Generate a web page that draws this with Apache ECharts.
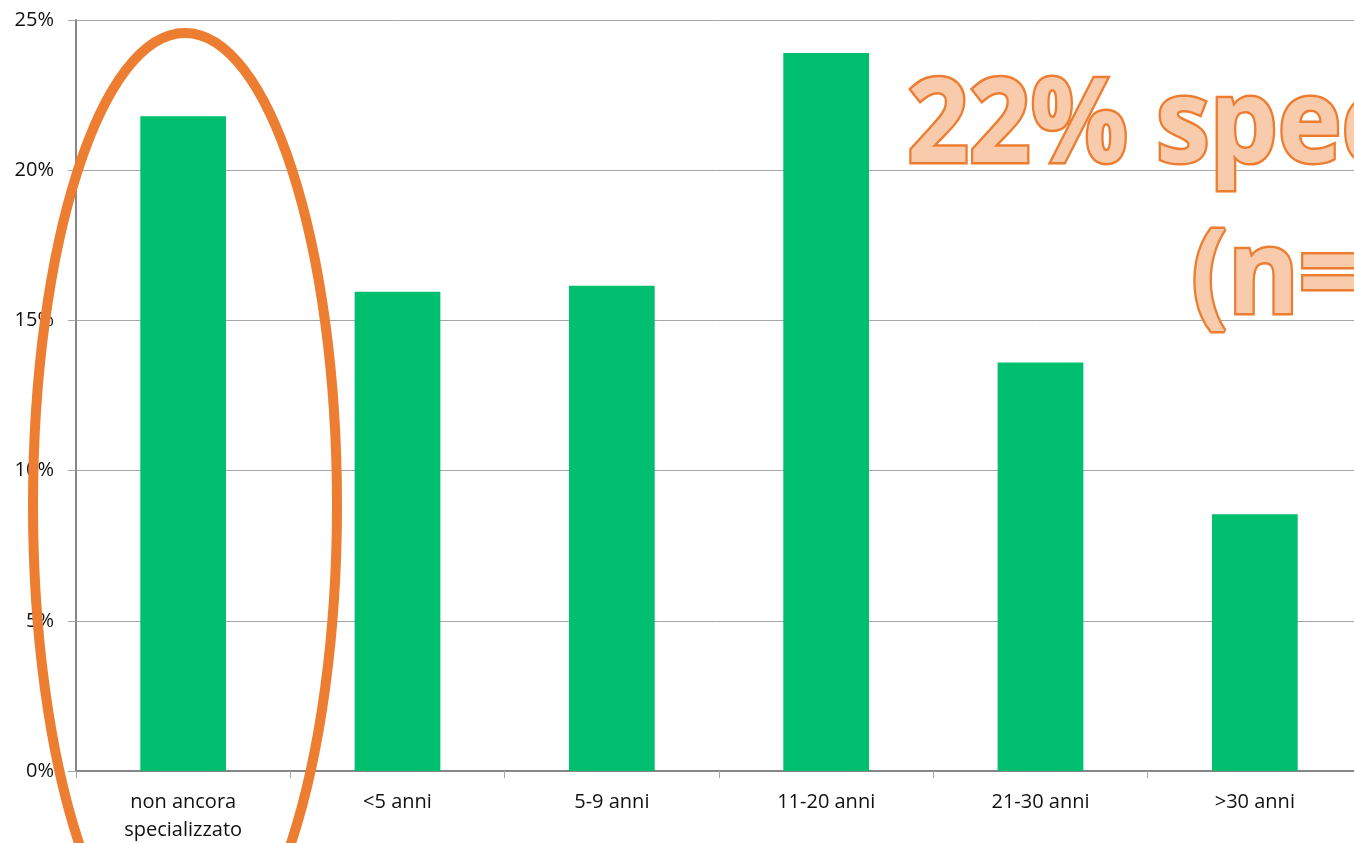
<!DOCTYPE html>
<html>
<head>
<meta charset="utf-8">
<script src="https://cdn.jsdelivr.net/npm/echarts@6/dist/echarts.min.js"></script>
<style>
  html, body { margin: 0; padding: 0; background: #fff; }
  #chart { width: 1354px; height: 843px; }
</style>
</head>
<body>
<div id="chart"></div>
<script>
// categorie e valori (%)
const categories = ['non ancora\nspecializzato', '<5 anni', '5-9 anni', '11-20 anni', '21-30 anni', '>30 anni']
const values = [21.8, 15.95, 16.15, 23.9, 13.6, 8.55]
const yTicks = [0, 5, 10, 15, 20, 25]

const chart = echarts.init(document.getElementById('chart'))
const font = 'Open Sans, Liberation Sans, sans-serif'

let option = {
  animation: false,
  grid: { left: 76, top: 20, width: 1286, height: 751, outerBoundsMode: 'none', containLabel: false },
  xAxis: {
    type: 'category',
    data: categories,
    axisLine: { lineStyle: { color: '#868686', width: 2 } },
    axisTick: { show: true, length: 7, lineStyle: { color: '#a6a6a6' } },
    axisLabel: { color: '#111', fontSize: 20, fontFamily: font, lineHeight: 28, margin: 17 },
  },
  yAxis: {
    type: 'value',
    min: yTicks[0],
    max: yTicks[yTicks.length - 1],
    interval: 5,
    axisLine: { show: true, lineStyle: { color: '#868686', width: 2 } },
    axisTick: { show: true, length: 8, lineStyle: { color: '#a6a6a6' } },
    axisLabel: { color: '#111', fontSize: 20, fontFamily: font, margin: 22, formatter: '{value}%' },
    splitLine: { lineStyle: { color: '#a6a6a6', width: 1 } },
  },
  series: [
    {
      type: 'bar',
      data: values,
      barWidth: '40%',
      itemStyle: { color: '#00BF6F' },
    },
  ],
  graphic: [
    {
      type: 'ellipse',
      shape: { cx: 185, cy: 505, rx: 152, ry: 472 },
      style: { fill: 'none', stroke: '#ED7D31', lineWidth: 10 },
      z: 100,
    },
    // testo sovrapposto (tagliato a destra come nell'originale)
    {
      type: 'text',
      left: 905,
      top: 68,
      scaleX: 0.93,
      style: {
        text: '22% spec',
        font: 'bold 116px ' + font,
        fill: '#F8CBAD',
        stroke: '#ED7D31',
        lineWidth: 5,
      },
      z: 100,
    },
    {
      type: 'text',
      left: 1189,
      top: 219,
      scaleX: 0.93,
      style: {
        text: '(n=',
        font: 'bold 116px ' + font,
        fill: '#F8CBAD',
        stroke: '#ED7D31',
        lineWidth: 5,
      },
      z: 100,
    },
  ],
}
option && chart.setOption(option)
</script>
</body>
</html>
